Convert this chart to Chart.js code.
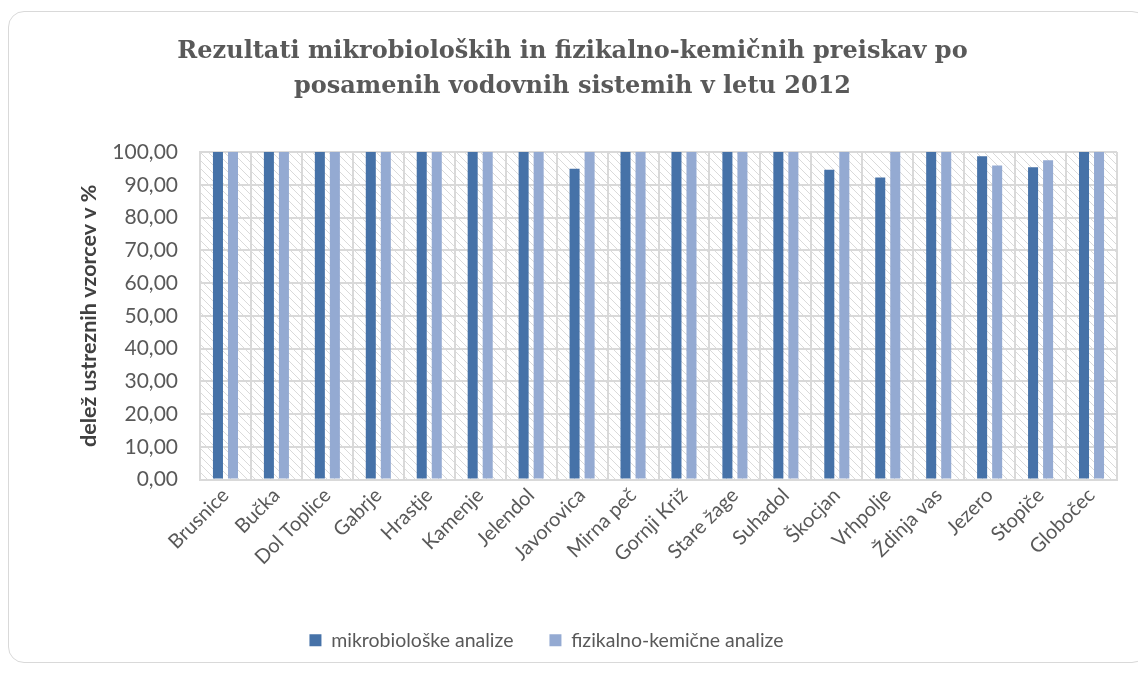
<!DOCTYPE html>
<html>
<head>
<meta charset="utf-8">
<script src="https://cdn.jsdelivr.net/npm/chart.js@4.4.0/dist/chart.umd.min.js"></script>
<style>
  html, body { margin: 0; padding: 0; background: #ffffff; }
  #wrap { position: absolute; left: 0; top: 0; width: 1138px; height: 673px; }
  #frame { position: absolute; left: 8px; top: 11px; width: 1140px; height: 652px;
           border: 1.5px solid #d9d9d9; border-radius: 16px; box-sizing: border-box; }
  canvas { position: absolute; left: 0; top: 0; }
</style>
</head>
<body>
<div id="wrap">
  <div id="frame"></div>
  <canvas id="c" width="1138" height="673"></canvas>
</div>
<script>
const categories = ["Brusnice", "Bučka", "Dol Toplice", "Gabrje", "Hrastje", "Kamenje", "Jelendol",
  "Javorovica", "Mirna peč", "Gornji Križ", "Stare žage", "Suhadol", "Škocjan", "Vrhpolje",
  "Ždinja vas", "Jezero", "Stopiče", "Globočec"];
const mikrobioloske = [100, 100, 100, 100, 100, 100, 100, 94.9, 100, 100, 100, 100, 94.6, 92.2, 100, 98.7, 95.4, 100];
const fizikalnoKemicne = [100, 100, 100, 100, 100, 100, 100, 100, 100, 100, 100, 100, 100, 100, 100, 95.9, 97.5, 100];
const seriesNames = ["mikrobiološke analize", "fizikalno-kemične analize"];
const titleLines = ["Rezultati mikrobioloških in fizikalno-kemičnih preiskav po", "posamenih vodovnih sistemih v letu 2012"];
const yAxisTitle = "delež ustreznih vzorcev v %";

function makeHatch(ctx) {
  const p = document.createElement('canvas');
  p.width = 8; p.height = 8;
  const g = p.getContext('2d');
  g.fillStyle = '#ffffff';
  g.fillRect(0, 0, 8, 8);
  g.strokeStyle = '#dadada';
  g.lineWidth = 1;
  g.beginPath();
  g.moveTo(-1, -1); g.lineTo(9, 9);
  g.moveTo(-1, 7); g.lineTo(1, 9);
  g.moveTo(7, -1); g.lineTo(9, 1);
  g.stroke();
  return ctx.createPattern(p, 'repeat');
}

const hatchPlugin = {
  id: 'hatch',
  beforeDraw(chart) {
    const { ctx, chartArea: a } = chart;
    ctx.save();
    ctx.fillStyle = makeHatch(ctx);
    ctx.fillRect(a.left, a.top, a.right - a.left, a.bottom - a.top);
    ctx.restore();
  }
};

// shift centred title / legend boxes horizontally to match the original layout
const shiftPlugin = {
  id: 'shiftBoxes',
  afterLayout(chart) {
    if (chart.titleBlock) { chart.titleBlock.left += 14; chart.titleBlock.right += 14; }
    if (chart.legend) { chart.legend.left -= 12; chart.legend.right -= 12; }
  }
};

const ctx = document.getElementById('c').getContext('2d');
new Chart(ctx, {
  type: 'bar',
  data: {
    labels: categories,
    datasets: [
      { label: seriesNames[0], data: mikrobioloske, backgroundColor: '#4672A8', borderWidth: 0 },
      { label: seriesNames[1], data: fizikalnoKemicne, backgroundColor: '#94AAD2', borderWidth: 0 }
    ]
  },
  plugins: [hatchPlugin, shiftPlugin],
  options: {
    responsive: false,
    animation: false,
    devicePixelRatio: 1,
    layout: { padding: { left: 0, right: 21, top: 0, bottom: 13 } },
    datasets: { bar: { categoryPercentage: 0.59, barPercentage: 0.667 } },
    plugins: {
      title: {
        display: true,
        text: titleLines,
        color: '#595959',
        font: { family: 'DejaVu Serif', weight: 'bold', size: 24, lineHeight: 1.46 },
        padding: { top: 34, bottom: 48 }
      },
      legend: {
        position: 'bottom',
        labels: {
          color: '#595959',
          font: { family: 'Lato', size: 19.5 },
          boxWidth: 12, boxHeight: 12,
          padding: 36
        }
      },
      tooltip: { enabled: false }
    },
    scales: {
      x: {
        grid: { color: '#d9d9d9', lineWidth: 2, drawTicks: false, offset: true },
        border: { color: '#d9d9d9', width: 2 },
        ticks: {
          color: '#595959',
          font: { family: 'Lato', size: 20 },
          maxRotation: 45, minRotation: 45,
          padding: 4,
          autoSkip: false
        },
        afterFit(scale) { scale.height = 115; }
      },
      y: {
        min: 0, max: 100,
        grid: { color: '#d9d9d9', lineWidth: 2, drawTicks: false },
        border: { color: '#d9d9d9', width: 2 },
        ticks: {
          stepSize: 10,
          color: '#595959',
          font: { family: 'Lato', size: 21 },
          padding: 22,
          callback: (v) => v.toFixed(2).replace('.', ',')
        },
        title: {
          display: true,
          text: yAxisTitle,
          color: '#404040',
          font: { family: 'Lato', weight: 'bold', size: 21.5 },
          padding: { top: 76, bottom: 0 }
        },
        afterFit(scale) { scale.width = 200; }
      }
    }
  }
});
</script>
</body>
</html>
